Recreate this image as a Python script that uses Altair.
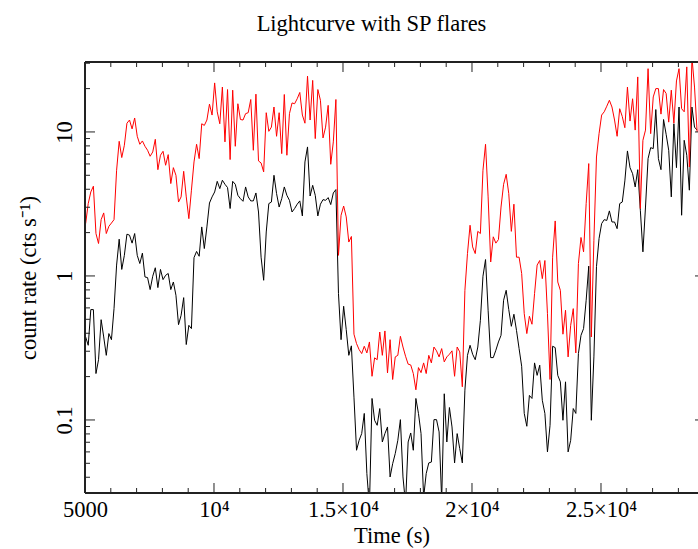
import altair as alt
import pandas as pd

# ---- data (100 s bins) ----
TIME_START = 5025
TIME_BIN = 100

red_rate = [
    2.31, 3.18, 3.83, 4.20, 1.97, 1.68, 2.46, 2.74, 1.97, 2.21,
    2.33, 2.46, 5.42, 8.61, 6.64, 8.08, 11.5, 12.1, 10.5, 12.5,
    9.33, 8.21, 8.66, 7.95, 7.46, 6.78, 7.26, 8.89, 5.47, 6.89,
    7.34, 5.87, 6.96, 4.38, 5.65, 5.00, 3.26, 3.54, 5.33, 3.54,
    2.50, 3.94, 6.19, 8.21, 6.53, 11.4, 11.1, 12.1, 15.6, 13.1,
    21.9, 13.8, 11.4, 20.5, 8.53, 19.7, 6.43, 19.5, 7.95, 15.7,
    12.2, 12.1, 13.4, 13.6, 16.8, 7.46, 18.3, 6.29, 6.09, 5.28,
    13.6, 10.1, 10.8, 14.9, 9.33, 13.6, 7.07, 18.2, 6.89, 13.4,
    15.9, 15.7, 17.0, 18.8, 13.1, 11.5, 24.4, 12.1, 22.8, 8.99,
    19.7, 16.6, 9.09, 10.8, 15.3, 5.96, 8.53, 16.8, 1.39, 2.64,
    3.06, 2.57, 1.72, 1.88, 0.394, 0.339, 0.308, 0.289, 0.325, 0.292,
    0.348, 0.201, 0.270, 0.262, 0.408, 0.281, 0.415, 0.212, 0.361, 0.191,
    0.274, 0.281, 0.381, 0.321, 0.277, 0.244, 0.241, 0.210, 0.162, 0.231,
    0.213, 0.249, 0.210, 0.281, 0.249, 0.321, 0.302, 0.274, 0.313, 0.253,
    0.274, 0.286, 0.302, 0.201, 0.321, 0.297, 0.170, 0.795, 1.43, 2.25,
    1.59, 1.43, 2.04, 1.97, 5.42, 8.21, 3.54, 1.25, 1.87, 1.69,
    1.79, 3.01, 4.33, 5.08, 3.73, 2.04, 3.15, 1.35, 1.35, 1.04,
    0.547, 0.398, 0.525, 0.462, 0.754, 1.19, 1.28, 0.958, 1.28, 0.547,
    0.191, 1.35, 2.41, 0.908, 0.795, 0.394, 0.578, 0.274, 0.454, 0.593,
    0.292, 1.22, 1.85, 1.47, 3.18, 6.03, 0.377, 1.77, 6.70, 9.73,
    13.1, 13.8, 15.1, 16.6, 14.9, 12.1, 9.33, 14.5, 12.8, 10.7,
    20.5, 11.9, 17.0, 10.3, 24.1, 2.94, 8.75, 10.3, 27.5, 9.73,
    17.5, 20.0, 20.0, 13.3, 19.7, 18.5, 11.7, 19.5, 11.5, 22.6,
    27.5, 14.5, 13.8, 28.3, 5.71, 33.0, 20.5, 10.0,
]

black_rate = [
    0.377, 0.330, 0.584, 0.584, 0.210, 0.262, 0.497, 0.377, 0.281, 0.398,
    0.361, 0.593, 1.19, 1.80, 1.11, 1.39, 1.95, 1.92, 1.69, 1.97,
    1.39, 1.22, 1.44, 0.984, 0.974, 0.804, 0.995, 1.14, 0.830, 1.11,
    0.943, 1.01, 1.04, 0.804, 0.908, 0.734, 0.459, 0.533, 0.707, 0.334,
    0.454, 0.431, 1.34, 1.48, 1.37, 2.19, 1.55, 2.19, 3.21, 3.54,
    3.83, 4.54, 4.04, 4.62, 4.33, 4.11, 2.94, 4.54, 4.33, 3.63,
    3.44, 3.30, 4.15, 3.54, 3.32, 3.32, 3.77, 2.78, 1.35, 0.933,
    2.02, 3.18, 3.26, 5.00, 3.73, 3.01, 3.44, 4.15, 3.63, 3.35,
    2.78, 2.94, 3.15, 3.32, 2.61, 6.19, 7.87, 3.59, 4.26, 3.63,
    2.61, 3.15, 3.39, 3.35, 3.50, 3.13, 3.77, 3.98, 0.754, 0.361,
    0.616, 0.424, 0.281, 0.327, 0.144, 0.0616, 0.0722, 0.0804, 0.111, 0.0424,
    0.025, 0.141, 0.0995, 0.0918, 0.120, 0.0703, 0.0804, 0.0894, 0.0402, 0.0497,
    0.0584, 0.0722, 0.1005, 0.0402, 0.026, 0.0703, 0.0812, 0.0616, 0.141, 0.111,
    0.0804, 0.029, 0.0424, 0.0503, 0.0510, 0.1005, 0.1005, 0.0826, 0.028, 0.152,
    0.0703, 0.122, 0.0894, 0.0503, 0.0804, 0.0632, 0.0503, 0.161, 0.281, 0.330,
    0.286, 0.262, 0.321, 0.492, 0.995, 1.30, 0.578, 0.271, 0.271, 0.305,
    0.348, 0.387, 0.678, 0.795, 0.584, 0.447, 0.542, 0.419, 0.313, 0.236,
    0.111, 0.0904, 0.148, 0.141, 0.249, 0.204, 0.240, 0.137, 0.111, 0.0600,
    0.0918, 0.325, 0.318, 0.204, 0.184, 0.0995, 0.184, 0.0600, 0.0722, 0.120,
    0.111, 0.289, 0.387, 0.431, 0.678, 1.17, 0.0995, 0.274, 1.16, 1.82,
    2.31, 2.46, 2.43, 2.83, 2.37, 2.37, 2.13, 3.18, 3.26, 4.57,
    7.38, 5.65, 5.13, 4.15, 5.47, 2.86, 1.47, 3.01, 6.53, 7.78,
    7.66, 14.3, 6.53, 5.47, 12.2, 9.63, 7.46, 3.54, 11.4, 5.65,
    14.9, 2.64, 8.75, 6.89, 3.94, 14.9, 10.8, 10.3,
]

x_major = [5000, 10000, 15000, 20000, 25000]
x_minor = [6000, 7000, 8000, 9000, 11000, 12000, 13000, 14000, 16000, 17000,
           18000, 19000, 21000, 22000, 23000, 24000, 26000, 27000, 28000]
y_major = [0.1, 1, 10]
y_minor = [0.04, 0.05, 0.06, 0.07, 0.08, 0.09, 0.2, 0.3, 0.4, 0.5, 0.6, 0.7,
           0.8, 0.9, 2, 3, 4, 5, 6, 7, 8, 9, 20, 30]

times = [TIME_START + TIME_BIN * i for i in range(len(red_rate))]
red_df = pd.DataFrame({"t": times, "rate": red_rate})
black_df = pd.DataFrame({"t": times, "rate": black_rate})

W, H = 613, 431
FONT = "Liberation Serif"
FS = 22.5

xs = alt.Scale(domain=[5000, 28760], nice=False, zero=False)
ys = alt.Scale(type="log", domain=[0.0311, 30.6], nice=False)

xaxis = alt.Axis(
    values=x_major, ticks=False, tickSize=0, domain=False, grid=False,
    labelExpr="datum.value == 5000 ? '5000' : datum.value == 10000 ? '10⁴' : "
              "datum.value == 15000 ? '1.5×10⁴' : datum.value == 20000 ? '2×10⁴' : '2.5×10⁴'",
    labelFont=FONT, labelFontSize=FS, labelColor="black", labelPadding=5,
    labelFlush=False, labelOverlap=False,
    title="Time (s)", titleFont=FONT, titleFontSize=FS, titleFontWeight="normal",
    titleColor="black", titlePadding=4,
)
yaxis = alt.Axis(
    values=y_major, ticks=False, tickSize=0, domain=False, grid=False,
    labelExpr="datum.value < 0.5 ? '0.1' : datum.value < 5 ? '1' : '10'",
    labelAngle=270, labelAlign="center", labelBaseline="bottom",
    labelFont=FONT, labelFontSize=FS, labelColor="black", labelPadding=9,
    labelFlush=False, labelOverlap=False,
    title="count rate (cts s⁻¹)", titleFont=FONT, titleFontSize=FS,
    titleFontWeight="normal", titleColor="black", titlePadding=13,
)

X = alt.X("t:Q", scale=xs, axis=xaxis)
Y = alt.Y("rate:Q", scale=ys, axis=yaxis)

black_line = alt.Chart(black_df).mark_line(color="black", strokeWidth=1, clip=True).encode(x=X, y=Y)
red_line = alt.Chart(red_df).mark_line(color="#ff0000", strokeWidth=1, clip=True).encode(x=X, y=Y)

xmaj = pd.DataFrame({"t": x_major})
xmin = pd.DataFrame({"t": x_minor})
ymaj = pd.DataFrame({"rate": y_major})
ymin = pd.DataFrame({"rate": y_minor})

TC = "#222222"
ticks = [
    alt.Chart(xmaj).mark_rule(color=TC).encode(x=X, y=alt.value(H), y2=alt.value(H - 10)),
    alt.Chart(xmin).mark_rule(color=TC).encode(x=X, y=alt.value(H), y2=alt.value(H - 5)),
    alt.Chart(xmaj).mark_rule(color=TC).encode(x=X, y=alt.value(0), y2=alt.value(10)),
    alt.Chart(xmin).mark_rule(color=TC).encode(x=X, y=alt.value(0), y2=alt.value(5)),
    alt.Chart(ymaj).mark_rule(color=TC).encode(y=Y, x=alt.value(0), x2=alt.value(10)),
    alt.Chart(ymin).mark_rule(color=TC).encode(y=Y, x=alt.value(0), x2=alt.value(5)),
    alt.Chart(ymaj).mark_rule(color=TC).encode(y=Y, x=alt.value(W - 3), x2=alt.value(W)),
]

frame = [
    alt.Chart(xmaj).mark_rule(color=TC, strokeWidth=1.3).encode(x=alt.value(0), x2=alt.value(W), y=alt.value(0)),
    alt.Chart(xmaj).mark_rule(color=TC, strokeWidth=1.3).encode(x=alt.value(0), x2=alt.value(W), y=alt.value(H)),
    alt.Chart(xmaj).mark_rule(color=TC, strokeWidth=1.3).encode(y=alt.value(0), y2=alt.value(H), x=alt.value(0)),
]

chart = alt.layer(black_line, red_line, *ticks, *frame).properties(
    width=W, height=H,
    title=alt.TitleParams("Lightcurve with SP flares", font=FONT, fontSize=FS,
                          fontWeight="normal", color="black", offset=26, dx=-20,
                          anchor="middle"),
    autosize=alt.AutoSizeParams(type="none"),
    padding={"left": 85, "top": 62, "right": 0, "bottom": 56},
).configure_view(strokeWidth=0).configure(background="white")

chart.save("out.html", embed_options={"renderer": "svg", "actions": False})
